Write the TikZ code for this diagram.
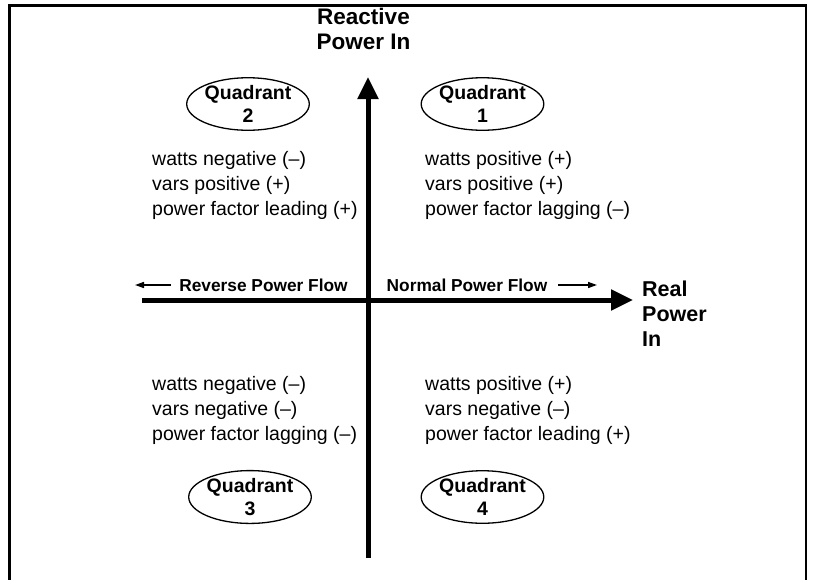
\documentclass[tikz,border=0pt]{standalone}
\usepackage{fontspec}
\setmainfont{Liberation Sans}
\usetikzlibrary{arrows.meta,shapes.geometric}
\tikzset{
  axis/.style={line width=5pt,-{Triangle[length=22pt,width=20pt]}},
  flowarrow/.style={line width=1.5pt,-{Triangle[length=9pt,width=6pt]}},
  axislabel/.style={font=\bfseries\fontsize{21.5}{25}\selectfont,inner sep=0pt},
  flowlabel/.style={font=\bfseries\fontsize{17.3}{20}\selectfont,inner sep=0pt},
  info/.style={font=\fontsize{19.5}{25}\selectfont,align=left,inner sep=0pt,anchor=west},
  quad/.style={ellipse,draw,line width=1.3pt,minimum width=114pt,minimum height=52pt,inner sep=0pt,align=center,font=\bfseries\fontsize{19.5}{23}\selectfont},
}
\begin{document}
\begin{tikzpicture}[x=1pt,y=-1pt]
\useasboundingbox (0,0) rectangle (816,579);
% frame (bottom edge lies outside the picture)
\draw[line width=2.6pt] (9.7,585) -- (9.7,5.5) -- (806,5.5) -- (806,585);

% axes
\coordinate (xl) at (142,300);
\coordinate (xr) at (633,300);
\coordinate (yb) at (368,558);
\coordinate (yt) at (368,77);
\draw[axis] (xl) -- (xr);
\draw[axis] (yb) -- (yt);

% axis labels
\node[axislabel,align=center,font=\bfseries\fontsize{22.5}{25}\selectfont] (ylab) at (363.5,29) {Reactive\\Power In};
\node[axislabel,align=left,anchor=west] (xlab) at (642,314) {Real\\Power\\In};

% flow labels and arrows
\node[flowlabel,anchor=base] (rev) at (263.5,291) {Reverse Power Flow};
\node[flowlabel,anchor=base] (nor) at (467,291) {Normal Power Flow};
\coordinate (ra) at (171,285);
\coordinate (rb) at (135,285);
\coordinate (na) at (558,285);
\coordinate (nb) at (597,285);
\draw[flowarrow] (ra) -- (rb);
\draw[flowarrow] (na) -- (nb);

% quadrant ellipses
\node[quad] (q2) at (248,104) {Quadrant\\2};
\node[quad] (q1) at (482.5,104) {Quadrant\\1};
\node[quad] (q3) at (250,497) {Quadrant\\3};
\node[quad] (q4) at (482.5,497) {Quadrant\\4};

% quadrant descriptions
\node[info] (t2) at (152,185) {watts negative (–)\\vars positive (+)\\power factor leading (+)};
\node[info] (t1) at (425,185) {watts positive (+)\\vars positive (+)\\power factor lagging (–)};
\node[info] (t3) at (152,410) {watts negative (–)\\vars negative (–)\\power factor lagging (–)};
\node[info] (t4) at (425,410) {watts positive (+)\\vars negative (–)\\power factor leading (+)};
\end{tikzpicture}
\end{document}
